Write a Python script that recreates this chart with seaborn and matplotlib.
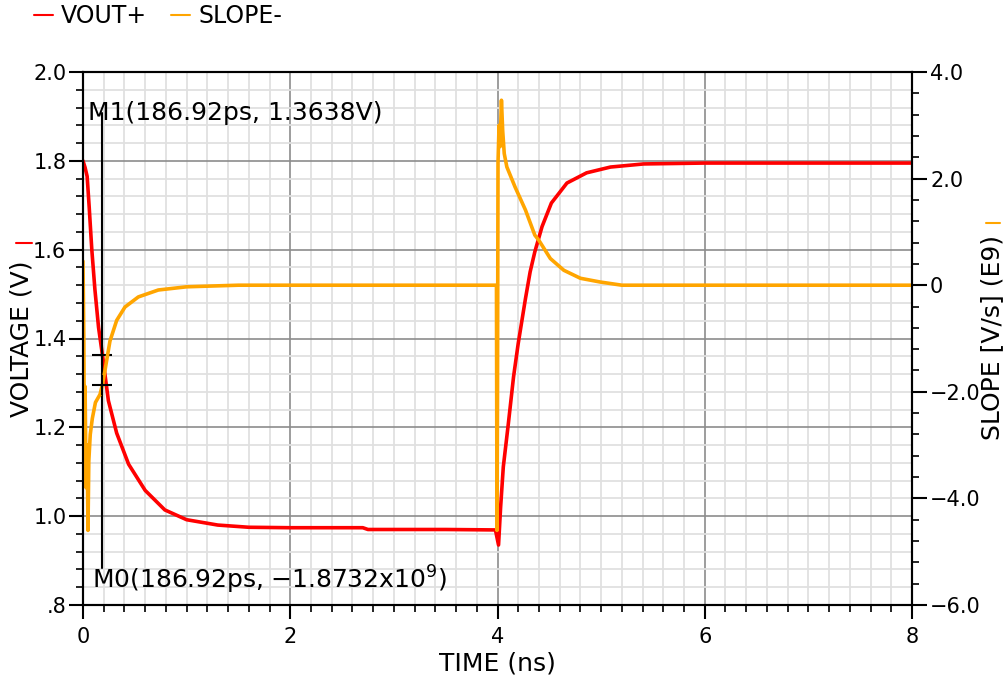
"""
VOUT+ / SLOPE- transient plot (dual axis), redrawn with seaborn + matplotlib
"""

import numpy as np
import pandas as pd
import matplotlib
matplotlib.use("Agg")
import matplotlib.pyplot as plt
from matplotlib.ticker import MultipleLocator, FixedLocator
from matplotlib.lines import Line2D
import seaborn as sns

# ----------------------------------------------------------------------------
# data (time in ns)
# ----------------------------------------------------------------------------
time_vout = [0.0, 0.02, 0.04, 0.06, 0.085, 0.115, 0.15, 0.18692, 0.245, 0.325,
             0.44, 0.6, 0.79, 1.0, 1.3, 1.6, 2.0, 2.7, 2.75, 3.5, 3.98, 4.01,
             4.03, 4.056, 4.105, 4.155, 4.2, 4.27, 4.315, 4.36, 4.43, 4.52,
             4.67, 4.86, 5.09, 5.41, 6.0, 7.0, 8.0]
vout = [1.80, 1.785, 1.765, 1.695, 1.60, 1.51, 1.425, 1.3638, 1.26, 1.187,
        1.117, 1.058, 1.014, 0.992, 0.98, 0.975, 0.974, 0.974, 0.970, 0.970,
        0.969, 0.935, 1.02, 1.111, 1.209, 1.314, 1.389, 1.49, 1.55, 1.595,
        1.652, 1.705, 1.75, 1.773, 1.786, 1.793, 1.795, 1.795, 1.795]

time_slope = [0.0, 0.008, 0.012, 0.02, 0.03, 0.04, 0.048, 0.056, 0.07, 0.09,
              0.12, 0.164, 0.18692, 0.212, 0.26, 0.325, 0.405, 0.534, 0.727,
              1.0, 1.5, 3.99, 3.995, 4.0, 4.005, 4.015, 4.025, 4.038, 4.05,
              4.065, 4.09, 4.17, 4.27, 4.36, 4.40, 4.51, 4.64, 4.80, 4.99,
              5.2, 8.0]
slope = [0.45, -1.0, -2.5, -1.9, -3.8, -3.0, -4.6, -3.3, -2.8, -2.5,
         -2.2, -2.05, -1.8732, -1.6, -1.05, -0.66, -0.41, -0.22, -0.09,
         -0.03, 0.0, 0.0, -4.6, -2.1, 2.3, 3.0, 2.6, 3.47, 2.9,
         2.47, 2.22, 1.84, 1.41, 0.94, 0.84, 0.5, 0.28, 0.13, 0.06,
         0.0, 0.0]

marker_t = 0.18692
marker_v = 1.3638
marker_s = -1.8732

volt_ticks = [0.8, 1.0, 1.2, 1.4, 1.6, 1.8, 2.0]
volt_labels = [".8", "1.0", "1.2", "1.4", "1.6", "1.8", "2.0"]
slope_ticks = [-6.0, -4.0, -2.0, 0.0, 2.0, 4.0]
slope_labels = ["\u22126.0", "\u22124.0", "\u22122.0", "0", "2.0", "4.0"]
time_ticks = [0, 2, 4, 6, 8]

RED = "#ff0000"
ORANGE = "#ffa500"

# ----------------------------------------------------------------------------
# styling
# ----------------------------------------------------------------------------
sns.set_theme(style="white")
plt.rcParams['font.family'] = ['DejaVu Sans']
plt.rcParams['axes.linewidth'] = 1.5
plt.rcParams['text.color'] = 'black'
plt.rcParams['axes.labelcolor'] = 'black'
plt.rcParams['xtick.color'] = 'black'
plt.rcParams['ytick.color'] = 'black'

fig = plt.figure(figsize=(10.08, 6.8), dpi=100)
ax = fig.add_axes([83 / 1008, 1 - 605 / 680, (912 - 83) / 1008, (605 - 72) / 680])
ax2 = ax.twinx()

df_v = pd.DataFrame({"TIME": time_vout, "VOUT+": vout})
df_s = pd.DataFrame({"TIME": time_slope, "SLOPE-": slope})

sns.lineplot(data=df_v, x="TIME", y="VOUT+", ax=ax, color=RED, lw=2.6,
             estimator=None, sort=False, legend=False)
sns.lineplot(data=df_s, x="TIME", y="SLOPE-", ax=ax2, color=ORANGE, lw=2.6,
             estimator=None, sort=False, legend=False)

# axes limits / ticks
ax.set_xlim(0, 8)
ax.set_ylim(0.8, 2.0)
ax2.set_ylim(-6.0, 4.0)

ax.xaxis.set_major_locator(FixedLocator(time_ticks))
ax.xaxis.set_minor_locator(MultipleLocator(0.2))
ax.yaxis.set_major_locator(FixedLocator(volt_ticks))
ax.yaxis.set_minor_locator(MultipleLocator(0.04))
ax.set_yticklabels(volt_labels)
ax.set_xticklabels([str(t) for t in time_ticks])

ax2.yaxis.set_major_locator(FixedLocator(slope_ticks))
ax2.yaxis.set_minor_locator(MultipleLocator(0.4))
ax2.set_yticklabels(slope_labels)

ax.grid(which="minor", color="#e0e0e0", lw=1.3)
ax.grid(which="major", color="#8c8c8c", lw=1.2)
ax.set_axisbelow(True)

ax.tick_params(which="major", direction="out", length=10, width=1.5,
               labelsize=15, pad=2, colors="black", left=True, bottom=True)
ax.tick_params(which="minor", direction="out", length=5, width=1.2,
               colors="black", left=True, bottom=True)
ax.tick_params(axis="x", which="major", pad=6)
ax2.tick_params(which="major", direction="out", length=11, width=1.5,
                labelsize=15, pad=2, colors="black", right=True)
ax2.tick_params(which="minor", direction="out", length=5, width=1.2,
                colors="black", right=True)

for sp in list(ax.spines.values()) + list(ax2.spines.values()):
    sp.set_color("black")
    sp.set_linewidth(1.5)

ax.set_xlabel("")
ax.set_ylabel("")
ax2.set_ylabel("")

# axis titles
fig.text(497 / 1008, 1 - 663 / 680, "TIME (ns)", ha="center", va="center",
         fontsize=18, color="black")
fig.text(22 / 1008, 1 - 339 / 680, "VOLTAGE (V)", ha="center", va="center",
         rotation=90, fontsize=18, color="black")
fig.text(992 / 1008, 1 - 338 / 680, "SLOPE [V/s] (E9)", ha="center",
         va="center", rotation=90, fontsize=18, color="black")
fig.add_artist(Line2D([16 / 1008, 32 / 1008], [1 - 243 / 680] * 2,
                      color=RED, lw=1.5, transform=fig.transFigure))
fig.add_artist(Line2D([986 / 1008, 1000 / 1008], [1 - 223 / 680] * 2,
                      color=ORANGE, lw=1.5, transform=fig.transFigure))

# markers M0 / M1
ax.axvline(marker_t, ymin=0.069, ymax=0.923, color="black", lw=1.5, zorder=5)
ax.plot([marker_t], [marker_v], marker="+", ms=14, mew=1.5, color="black",
        zorder=6)
ax2.plot([marker_t], [marker_s], marker="+", ms=14, mew=1.5, color="black",
         zorder=6)
ax.text(0.006, 0.923, f"M1({marker_t * 1000:.2f}ps, {marker_v:.4f}V)",
        transform=ax.transAxes, ha="left", va="center", fontsize=18,
        color="black", zorder=7)
ax.text(0.011, 0.047, f"M0({marker_t * 1000:.2f}ps, \u2212{abs(marker_s):.4f}x10$^9$)",
        transform=ax.transAxes, ha="left", va="center", fontsize=18,
        color="black", zorder=7)

# legend across the top
handles = [Line2D([], [], color=RED, lw=1.5), Line2D([], [], color=ORANGE, lw=1.5)]
leg = fig.legend(handles, ["VOUT+", "SLOPE-"], loc="upper left",
                 bbox_to_anchor=(34 / 1008, 1 - 4 / 680), ncol=2, frameon=False,
                 fontsize=17, handlelength=0.8, handletextpad=0.35,
                 columnspacing=1.0, borderpad=0, borderaxespad=0)
for txt in leg.get_texts():
    txt.set_color("black")

fig.savefig("out.png", dpi=100)
